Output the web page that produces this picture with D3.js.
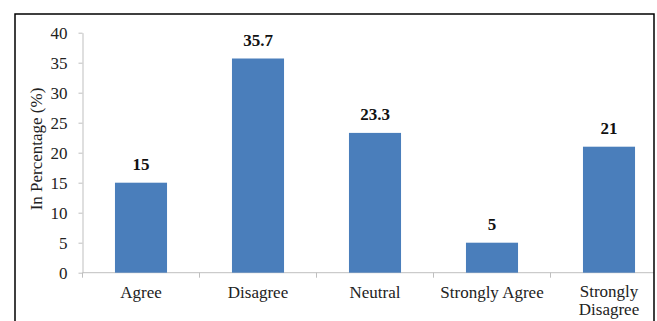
<!DOCTYPE html>
<html>
<head>
<meta charset="utf-8">
<script src="https://cdn.jsdelivr.net/npm/d3@7"></script>
<style>
  body { margin: 0; background: #fff; }
  svg { display: block; }
</style>
</head>
<body>
<div id="chart"></div>
<script>
const categories = ['Agree', 'Disagree', 'Neutral', 'Strongly Agree', 'Strongly Disagree']
const values = [15, 35.7, 23.3, 5, 21]
const yTicks = [0, 5, 10, 15, 20, 25, 30, 35, 40]

const width = 657
const height = 321
const frame = { left: 15, top: 14, right: 654 }
const plot = { left: 82.5, top: 32.7, bottom: 272.7, bandWidth: 117 }
const barColor = '#4a7ebb'
const axisColor = '#bfbfbf'
const fontFamily = '"Liberation Serif", "Times New Roman", serif'
const fontSize = 17

const svg = d3.select('#chart').append('svg').attr('width', width).attr('height', height)

svg.append('defs').append('clipPath').attr('id', 'frameClip')
  .append('rect')
  .attr('x', frame.left).attr('y', frame.top)
  .attr('width', frame.right - frame.left).attr('height', height)

const x = d3.scaleBand()
  .domain(categories)
  .range([plot.left, plot.left + plot.bandWidth * categories.length])
  .paddingInner(0.555)
  .paddingOuter(0.2775)

const y = d3.scaleLinear().domain([0, 40]).range([plot.bottom, plot.top])

const chartGroup = svg.append('g').attr('clip-path', 'url(#frameClip)')

// y axis
const yAxisGroup = chartGroup.append('g').attr('class', 'yAxisGroup').attr('transform', `translate(${plot.left}, 0)`)
yAxisGroup.call(d3.axisLeft(y).tickValues(yTicks).tickSize(4).tickPadding(11).tickSizeOuter(0))
yAxisGroup.select('.domain').attr('stroke', axisColor)
yAxisGroup.selectAll('.tick line').attr('stroke', axisColor)
yAxisGroup.selectAll('.tick text')
  .attr('font-family', fontFamily).attr('font-size', fontSize).attr('fill', '#222')

// x axis
const xAxisGroup = chartGroup.append('g').attr('class', 'xAxisGroup').attr('transform', `translate(0, ${plot.bottom})`)
xAxisGroup.append('line')
  .attr('x1', plot.left).attr('x2', plot.left + plot.bandWidth * categories.length)
  .attr('stroke', axisColor)
xAxisGroup.selectAll('.sep').data(d3.range(categories.length + 1))
  .enter().append('line')
  .attr('class', 'sep')
  .attr('x1', i => plot.left + i * plot.bandWidth)
  .attr('x2', i => plot.left + i * plot.bandWidth)
  .attr('y1', 0).attr('y2', 5)
  .attr('stroke', axisColor)

const catLabels = xAxisGroup.selectAll('.cat').data(categories)
  .enter().append('text')
  .attr('class', 'cat')
  .attr('x', d => x(d) + x.bandwidth() / 2)
  .attr('text-anchor', 'middle')
  .attr('font-family', fontFamily).attr('font-size', fontSize).attr('fill', '#222')

catLabels.each(function (d) {
  const t = d3.select(this)
  const w = x(d) + x.bandwidth() / 2
  if (d === 'Strongly Disagree') {
    t.append('tspan').attr('x', w).attr('y', 24).text('Strongly')
    t.append('tspan').attr('x', w).attr('y', 42.5).text('Disagree')
  } else {
    t.attr('y', 25.5).text(d)
  }
})

// bars
chartGroup.selectAll('rect.bar').data(values)
  .enter().append('rect')
  .attr('class', 'bar')
  .attr('x', (d, i) => x(categories[i]))
  .attr('width', x.bandwidth())
  .attr('y', d => y(d))
  .attr('height', d => plot.bottom - y(d))
  .attr('fill', barColor)

// value labels
chartGroup.selectAll('text.val').data(values)
  .enter().append('text')
  .attr('class', 'val')
  .attr('x', (d, i) => x(categories[i]) + x.bandwidth() / 2)
  .attr('y', d => y(d) - 13)
  .attr('text-anchor', 'middle')
  .attr('font-family', fontFamily).attr('font-size', fontSize).attr('font-weight', 'bold').attr('fill', '#111')
  .text(d => d)

// y title
svg.append('text')
  .attr('transform', `translate(42, 149) rotate(-90)`)
  .attr('text-anchor', 'middle')
  .attr('font-family', fontFamily).attr('font-size', fontSize).attr('fill', '#222')
  .text('In Percentage (%)')

// frame
svg.append('path')
  .attr('d', `M${frame.left},${height + 2}V${frame.top}H${frame.right}V${height + 2}`)
  .attr('fill', 'none').attr('stroke', '#000').attr('stroke-width', 1.5)
</script>
</body>
</html>
